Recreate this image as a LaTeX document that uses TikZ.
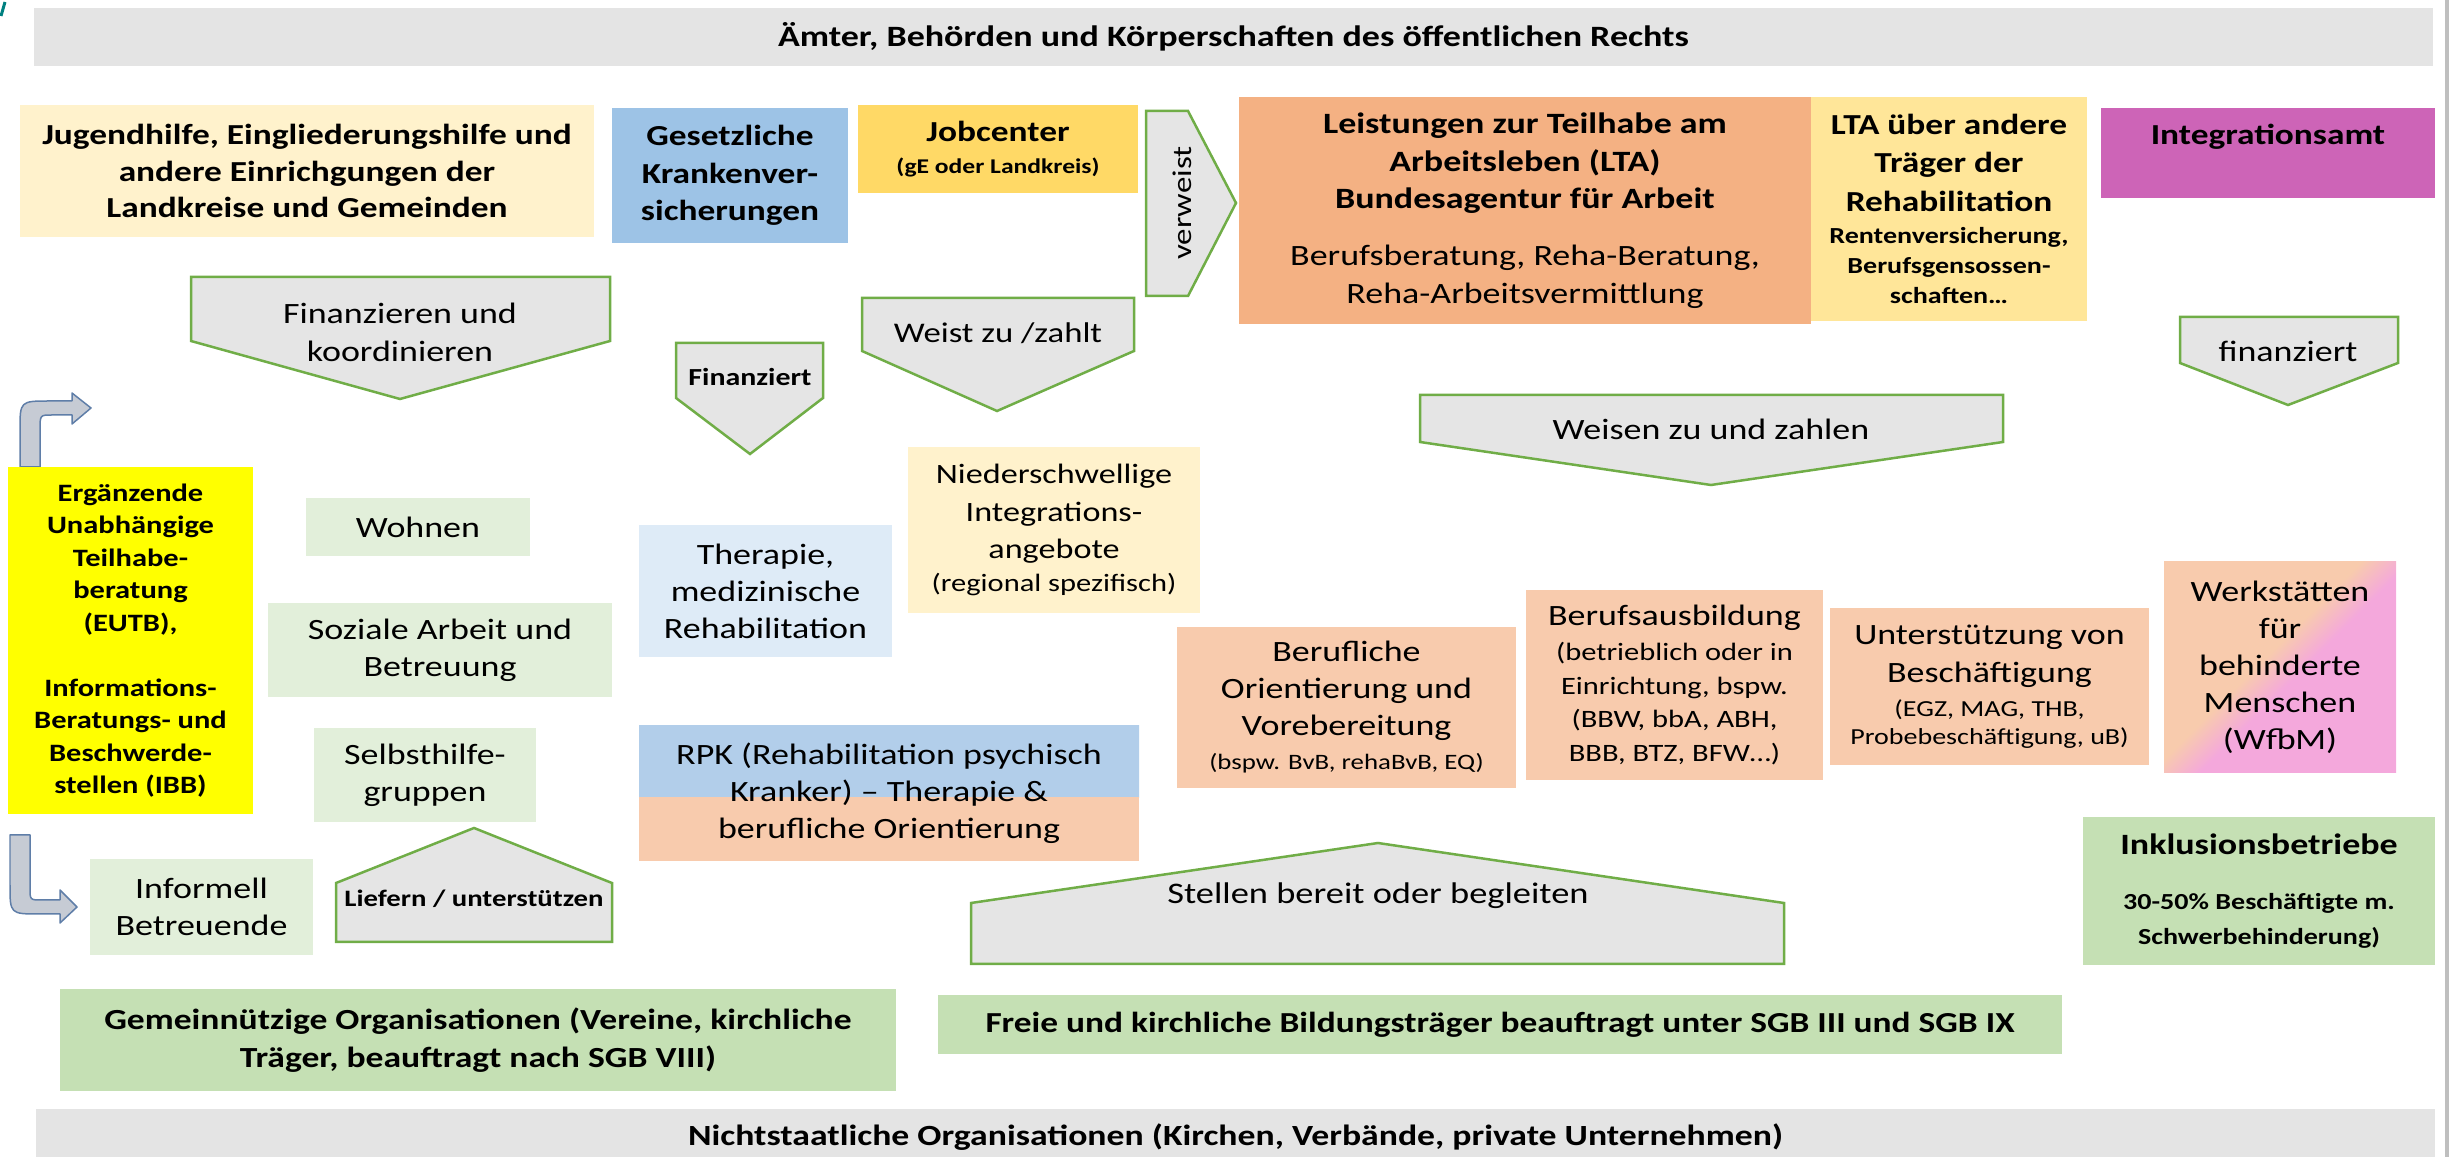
\documentclass[tikz,border=0pt]{standalone}
\usepackage{fontspec}
\setmainfont{Carlito}[FakeStretch=1.22]
\definecolor{barg}{HTML}{E4E4E4}
\definecolor{ljy}{HTML}{FFF2CC}
\definecolor{gkv}{HTML}{9DC3E6}
\definecolor{jc}{HTML}{FFD966}
\definecolor{lta}{HTML}{F4B183}
\definecolor{ltay}{HTML}{FFE699}
\definecolor{ia}{HTML}{CD64B7}
\definecolor{lg}{HTML}{E2EFDA}
\definecolor{mg}{HTML}{C5E0B4}
\definecolor{lb}{HTML}{DEEBF7}
\definecolor{po}{HTML}{F8CBAD}
\definecolor{pk}{HTML}{F4A8DC}
\definecolor{rb}{HTML}{B2CEEA}
\definecolor{rbl}{HTML}{D3E2F3}
\definecolor{arrf}{HTML}{E5E5E5}
\definecolor{arrg}{HTML}{70AD47}
\definecolor{bentf}{HTML}{C6CBD4}
\definecolor{bentd}{HTML}{5F7EA8}
\definecolor{yel}{HTML}{FFFF00}
\pgfdeclarehorizontalshading{wfbmshade}{100bp}{color(0bp)=(po); color(46bp)=(po); color(54bp)=(pk); color(100bp)=(pk)}
\newcommand\fsz[2]{\fontsize{#1}{#2}\selectfont}
\tikzset{
  box/.style 2 args={inner sep=0pt, outer sep=0pt, align=center, draw=none, minimum width=#1mm, minimum height=#2mm},
  chev/.style={fill=arrf, draw=arrg, line width=0.25mm, line join=miter},
  bent/.style={fill=bentf, draw=bentd, line width=0.15mm, line join=round},
  lbl/.style={inner sep=0pt, outer sep=0pt, align=center},
  reg/.style={font=\fsz{8.39}{10.53}},
}
\begin{document}
\begin{tikzpicture}[x=0.1mm, y=-0.1mm]
\useasboundingbox (0,0) rectangle (2453,1157);
% frame artefacts
\draw[line width=0.4mm, color=black!25] (2447,0) -- (2447,1157);
\draw[line width=0.3mm, color=teal] (1,16) -- (5,2);

% bars
\node[box={239.9}{5.8}, fill=barg, font=\bfseries\fsz{8.4}{10}] (oben) at (1233.5,37) {Ämter, Behörden und Körperschaften des öffentlichen Rechts};
\node[box={239.9}{5.7}, fill=barg, font=\bfseries\fsz{8.33}{10}] (unten) at (1235.5,1137.5) {Nichtstaatliche Organisationen (Kirchen, Verbände, private Unternehmen)};

% top row
\node[box={57.4}{13.2}, fill=ljy, font=\bfseries\fsz{8.25}{10.45}] (jug) at (307,171) {Jugendhilfe, Eingliederungshilfe und\\andere Einrichgungen der\\Landkreise und Gemeinden};
\node[box={23.6}{13.5}, fill=gkv, font=\bfseries\fsz{8.25}{10.67}] (gkv) at (730,175.5) {Gesetzliche\\Krankenver-\\sicherungen};
\node[box={28.0}{8.8}, fill=jc, font=\bfseries\fsz{8.25}{9.1}] (jobc) at (998,149) {Jobcenter\\{\bfseries\fsz{5.97}{9.1}(gE oder Landkreis)}};
\node[box={57.2}{22.7}, fill=lta, font=\fsz{8.39}{10.67}] (lta) at (1525,210.5) {{\bfseries Leistungen zur Teilhabe am}\\{\bfseries Arbeitsleben (LTA)}\\{\bfseries Bundesagentur für Arbeit}\\[5.55pt]Berufsberatung, Reha-Beratung,\\Reha-Arbeitsvermittlung};
\node[box={27.6}{22.4}, fill=ltay, font=\bfseries\fsz{8.25}{10.95}] (ltaa) at (1949,209) {LTA über andere\\Träger der\\Rehabilitation\\[-1.85pt]{\bfseries\fsz{6.54}{10.95}Rentenversicherung,}\\[-2.3pt]{\bfseries\fsz{6.54}{10.95}Berufsgensossen-}\\[-2.3pt]{\bfseries\fsz{6.54}{10.95}schaften…}};
\node[box={33.4}{9.0}, fill=ia] (integ) at (2268,153) {};
\node[lbl, anchor=base, font=\bfseries\fsz{8.25}{10}] (integt) at (2268,145) {Integrationsamt};

% chevrons
\draw[chev] (1146,111) -- (1188,111) -- (1236,203) -- (1188,296) -- (1146,296) -- cycle;
\node[lbl, rotate=90, font=\fsz{7.68}{9}] (verw) at (1182,203) {verweist};
\draw[chev] (191,277) -- (610,277) -- (610,341) -- (400,399) -- (191,341) -- cycle;
\node[lbl, font=\fsz{8.39}{10.8}] (fin1) at (400,332) {Finanzieren und\\koordinieren};
\draw[chev] (676,343) -- (823,343) -- (823,398) -- (750,454) -- (676,398) -- cycle;
\node[lbl, anchor=base, font=\bfseries\fsz{6.97}{8}] (fin2) at (750,386) {Finanziert};
\draw[chev] (862,298) -- (1134,298) -- (1134,351) -- (997,411) -- (862,351) -- cycle;
\node[lbl, anchor=base, font=\fsz{8.1}{9}] (weist) at (998,343) {Weist zu /zahlt};
\draw[chev] (1420,395) -- (2003,395) -- (2003,442) -- (1711,485) -- (1420,442) -- cycle;
\node[lbl, anchor=base, font=\fsz{8.39}{9}] (weisen) at (1711,440) {Weisen zu und zahlen};
\draw[chev] (2180,317) -- (2398,317) -- (2398,363) -- (2288,405) -- (2180,363) -- cycle;
\node[lbl, anchor=base, font=\fsz{8.39}{9}] (fin3) at (2288,362) {finanziert};
\draw[chev] (336,942) -- (336,883) -- (474,828) -- (612,883) -- (612,942) -- cycle;
\node[lbl, anchor=base, font=\bfseries\fsz{6.7}{8}] (liefern) at (474,907) {Liefern / unterstützen};
\draw[chev] (971,964) -- (971,903) -- (1378,843) -- (1784,903) -- (1784,964) -- cycle;
\node[lbl, anchor=base, font=\fsz{8.5}{9}] (stellen) at (1378,903) {Stellen bereit oder begleiten};

% bent arrows
\draw[bent] (20,467) -- (20,430) .. controls (20,401) .. (50,401) -- (72,401) -- (72,393) -- (91,408) -- (72,424) -- (72,415) -- (52,415) .. controls (40,415) .. (40,430) -- (40,467) -- cycle;
\draw[bent] (10,835) -- (10,885) .. controls (10,914) .. (40,914) -- (60,914) -- (60,923) -- (77,907) -- (60,890) -- (60,900) -- (42,900) .. controls (30,900) .. (30,888) -- (30,835) -- cycle;

% left column
\node[box={24.5}{34.7}, fill=yel, font=\bfseries\fsz{7.11}{9.25}] (eutb) at (130.5,640.5) {Ergänzende\\Unabhängige\\Teilhabe-\\beratung\\(EUTB),\\[9.25pt]Informations-\\Beratungs- und\\Beschwerde-\\stellen (IBB)};
\node[box={22.4}{5.8}, fill=lg, reg] (wohnen) at (418,527) {Wohnen};
\node[box={34.4}{9.4}, fill=lg, reg] (sozial) at (440,650) {Soziale Arbeit und\\Betreuung};
\node[box={22.2}{9.4}, fill=lg, reg] (selbst) at (425,775) {Selbsthilfe-\\gruppen};
\node[box={22.3}{9.6}, fill=lg, reg] (inform) at (201.5,907) {Informell\\Betreuende};

% middle
\node[box={25.3}{13.2}, fill=lb, reg] (thera) at (765.5,591) {Therapie,\\medizinische\\Rehabilitation};
\node[box={29.2}{16.6}, fill=ljy, font=\fsz{7.97}{10.67}] (nieder) at (1054,530) {Niederschwellige\\Integrations-\\angebote\\[-1.28pt]{\fsz{7.11}{10.67}(regional spezifisch)}};
\shade[top color=rb, middle color=rbl, bottom color=rb] (639,726) rectangle (1139,798);
\fill[po] (639,797) rectangle (1139,861);
\node[box={50.0}{13.5}, reg] (rpk) at (889,793.5) {RPK (Rehabilitation psychisch\\Kranker) – Therapie \&\\berufliche Orientierung};

% right middle
\node[box={33.9}{16.1}, fill=po, reg] (beror) at (1346.5,707.5) {Berufliche\\Orientierung und\\Vorebereitung\\[-0.85pt]{\fsz{6.26}{10.53}(bspw. BvB, rehaBvB, EQ)}};
\node[box={29.7}{19.0}, fill=po, font=\fsz{8.39}{9.53}] (berau) at (1674.5,685) {Berufsausbildung\\[0.4pt]{\fsz{7.11}{9.53}(betrieblich oder in}\\{\fsz{7.11}{9.53}Einrichtung, bspw.}\\{\fsz{7.11}{9.53}(BBW, bbA, ABH,}\\{\fsz{7.11}{9.53}BBB, BTZ, BFW…)}};
\node[box={31.9}{15.7}, fill=po, font=\fsz{8.39}{10.81}] (unter) at (1989.5,686.5) {Unterstützung von\\Beschäftigung\\[-1.14pt]{\fsz{6.54}{10.81}(EGZ, MAG, THB,}\\[-2.85pt]{\fsz{6.54}{10.81}Probebeschäftigung, uB)}};
\node[box={23.2}{21.1}, shade, shading=wfbmshade, shading angle=-45, reg] (wfbm) at (2280,667.5) {Werkstätten\\für\\behinderte\\Menschen\\(WfbM)};
\node[box={35.2}{14.8}, fill=mg, font=\bfseries\fsz{8.39}{9.96}] (inkl) at (2259,891) {Inklusionsbetriebe\\[5.69pt]{\bfseries\fsz{6.54}{9.96}30-50\% Beschäftigte m.}\\{\bfseries\fsz{6.54}{9.96}Schwerbehinderung)}};

% bottom row
\node[box={83.6}{10.2}, fill=mg, font=\bfseries\fsz{8.3}{10.81}] (gemein) at (478,1040) {Gemeinnützige Organisationen (Vereine, kirchliche\\Träger, beauftragt nach SGB VIII)};
\node[box={112.4}{5.9}, fill=mg, font=\bfseries\fsz{8.25}{10}] (freie) at (1500,1024.5) {Freie und kirchliche Bildungsträger beauftragt unter SGB III und SGB IX};
\end{tikzpicture}
\end{document}
